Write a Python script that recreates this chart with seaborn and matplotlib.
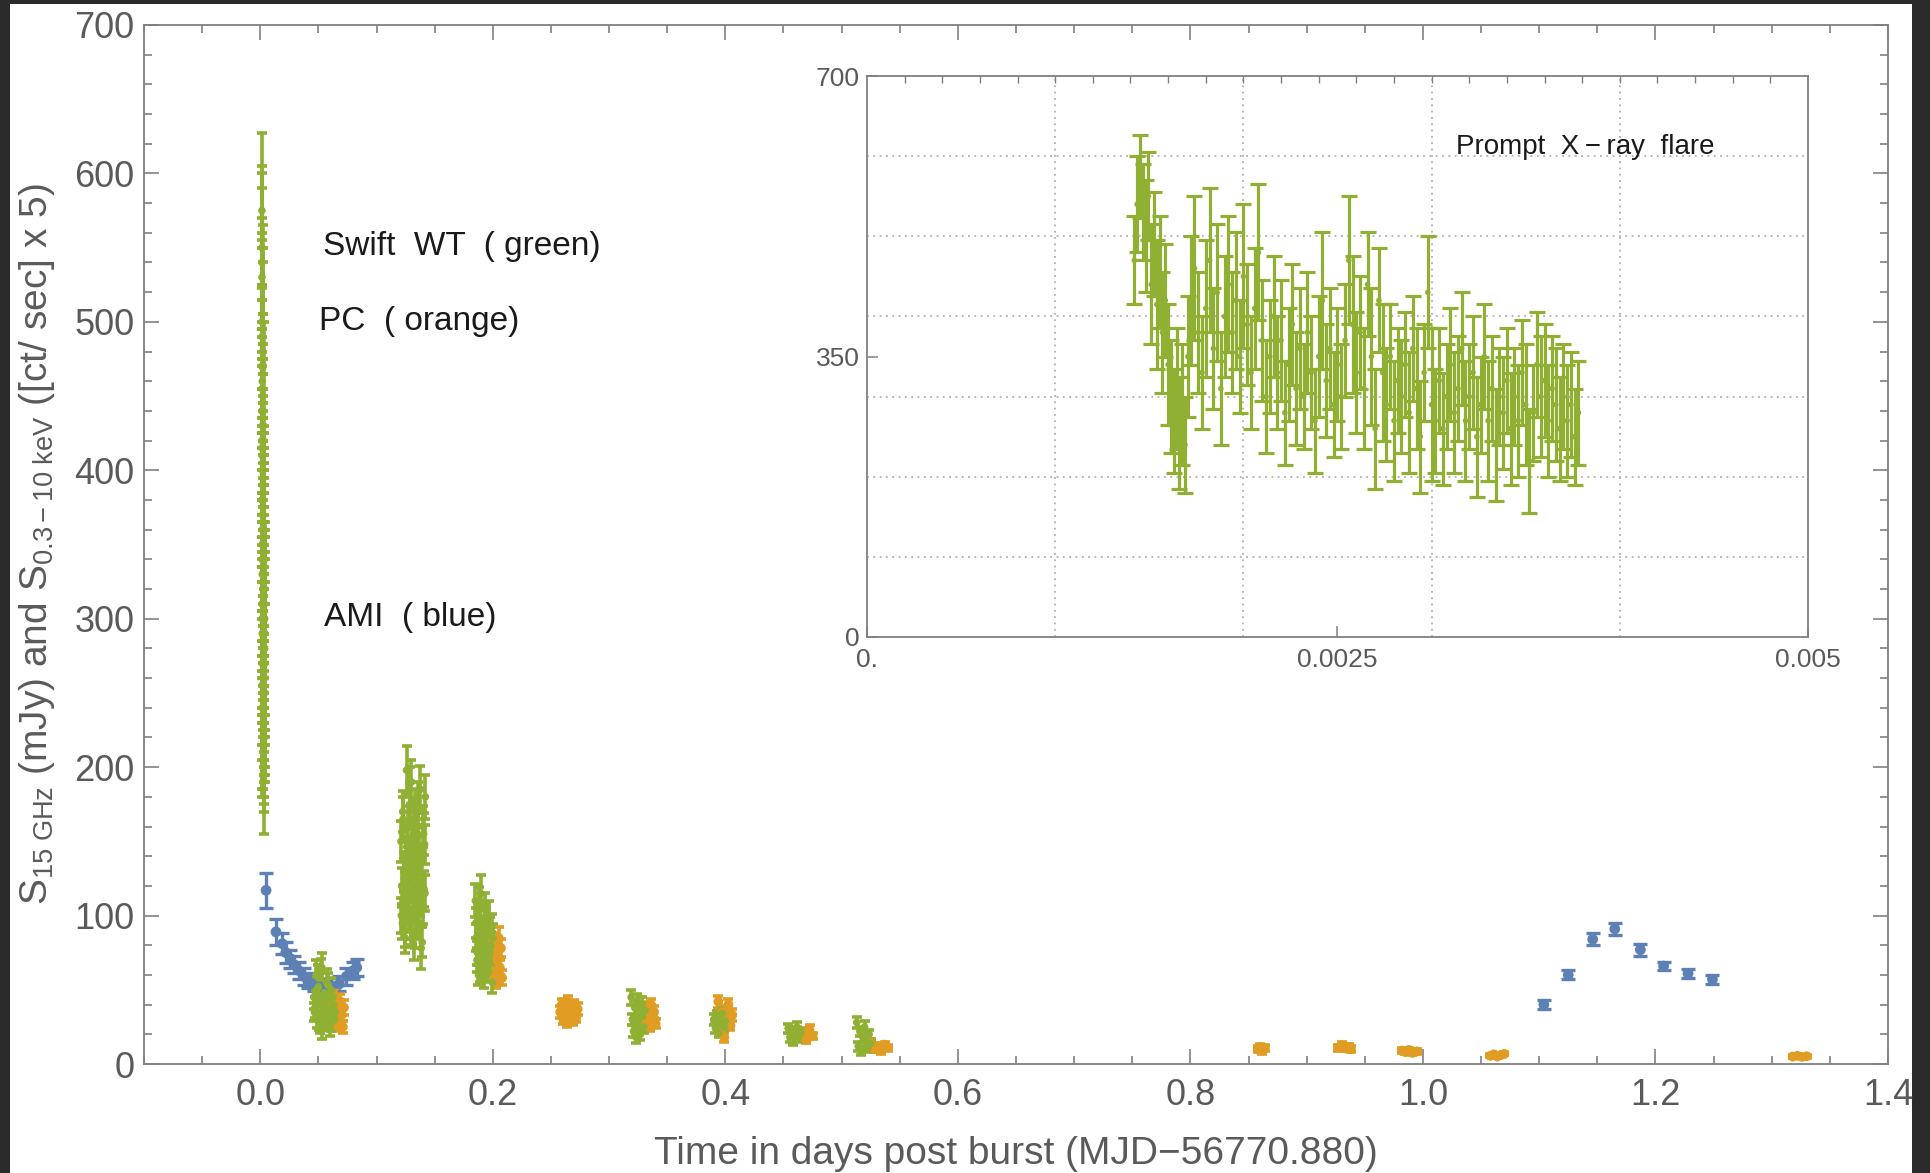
import matplotlib
matplotlib.use("Agg")
import matplotlib.pyplot as plt
import seaborn as sns
import pandas as pd
from matplotlib.ticker import MultipleLocator, FixedLocator
from matplotlib.patches import Rectangle

BLUE = "#5E81B5"
ORANGE = "#E19C24"
GREEN = "#8FB032"

# --- prompt X-ray flare (Swift WT), t in days
flare_t = [0.001420, 0.001435, 0.001450, 0.001465, 0.001480, 0.001495, 0.001510, 0.001525, 0.001540, 0.001555,
           0.001570, 0.001585, 0.001600, 0.001615, 0.001630, 0.001645, 0.001660, 0.001675, 0.001690, 0.001705,
           0.001720,
           0.00174, 0.00176, 0.00178, 0.00180, 0.00182, 0.00184, 0.00186, 0.00188, 0.00190, 0.00192,
           0.00194, 0.00196, 0.00198, 0.00200, 0.00202, 0.00204, 0.00206, 0.00208, 0.00210, 0.00212,
           0.00214, 0.00216, 0.00218, 0.00220, 0.00222, 0.00224, 0.00226, 0.00228, 0.00230, 0.00232,
           0.00234, 0.00236, 0.00238, 0.00240, 0.00242, 0.00244, 0.00246, 0.00248, 0.00250, 0.00252,
           0.00254, 0.00256, 0.00258, 0.00260, 0.00262, 0.00264, 0.00266, 0.00268, 0.00270, 0.00272,
           0.00274, 0.00276, 0.00278, 0.00280, 0.00282, 0.00284, 0.00286, 0.00288, 0.00290, 0.00292,
           0.00294, 0.00296, 0.00298, 0.00300, 0.00302, 0.00304, 0.00306, 0.00308, 0.00310, 0.00312,
           0.00314, 0.00316, 0.00318, 0.00320, 0.00322, 0.00324, 0.00326, 0.00328, 0.00330, 0.00332,
           0.00334, 0.00336, 0.00338, 0.00340, 0.00342, 0.00344, 0.00346, 0.00348, 0.00350, 0.00352,
           0.00354, 0.00356, 0.00358, 0.00360, 0.00362, 0.00364, 0.00366, 0.00368, 0.00370, 0.00372,
           0.00374, 0.00376, 0.00378]
flare_y = [470, 540, 575, 530, 500, 550, 440, 490, 415, 455, 380, 420, 340, 300, 270, 310, 255, 290, 240, 350,
           420,
           460, 380, 330, 410, 470, 360, 430, 310, 400, 440, 380, 420, 350, 450, 390, 330, 410, 480, 370, 300,
           350, 400, 330, 370, 280, 340, 390, 310, 360, 300, 380, 330, 270, 350, 420, 320, 360, 290, 340, 300,
           370, 470, 390, 330, 380, 310, 440, 350, 260, 420, 330, 290, 350, 270, 320, 300, 340, 280, 360, 310,
           250, 330, 430, 290, 270, 320, 260, 300, 340, 280, 310, 360, 270, 300, 330, 250, 290, 350, 270, 310,
           240, 300, 280, 320, 260, 300, 270, 330, 290, 220, 280, 340, 300, 320, 270, 310, 290, 260, 300, 270,
           290, 250, 280]
flare_err = [55, 60, 52, 60, 70, 55, 75, 65, 80, 70, 75, 70, 75, 70, 65, 75, 70, 75, 60, 75,
             80,
             90, 75, 70, 85, 90, 75, 85, 70, 75, 85, 75, 85, 70, 90, 75, 70, 75, 85, 75, 70,
             70, 75, 70, 75, 65, 70, 75, 70, 75, 65, 75, 70, 65, 75, 85, 70, 75, 65, 70, 65,
             70, 80, 85, 75, 70, 75, 65, 85, 75, 65, 85, 70, 65, 75, 65, 70, 65, 75, 65, 75,
             70, 60, 70, 95, 65, 65, 70, 65, 70, 75, 65, 70, 75, 65, 70, 75, 60, 65, 75, 65,
             70, 60, 70, 65, 70, 60, 70, 65, 75, 65, 60, 65, 75, 70, 70, 65, 70, 65, 65, 70,
             65, 60, 65]

# --- later Swift WT (green) clusters
green_t = [0.046, 0.047, 0.048, 0.049, 0.050, 0.051, 0.052, 0.053, 0.054, 0.055, 0.056, 0.057,
           0.058, 0.059, 0.060, 0.061, 0.062, 0.063, 0.064, 0.050, 0.053, 0.056, 0.059, 0.062,
           0.0465, 0.0485, 0.0505, 0.0525, 0.0545, 0.0565, 0.0585, 0.0605, 0.0625, 0.0645,
           0.121, 0.1216, 0.1222, 0.1228, 0.1234, 0.124, 0.1246, 0.1252, 0.1258, 0.1264, 0.127, 0.1276,
           0.1282, 0.1288, 0.1294, 0.13, 0.1306, 0.1312, 0.1318, 0.1324, 0.133, 0.1336, 0.1342, 0.1348,
           0.1354, 0.136, 0.1366, 0.1372, 0.1378, 0.1384, 0.139, 0.1396, 0.1402, 0.1408, 0.1414, 0.142,
           0.1213, 0.1225, 0.1237, 0.1249, 0.1261, 0.1273, 0.1285, 0.1297, 0.1309, 0.1321,
           0.1333, 0.1345, 0.1357, 0.1369, 0.1381, 0.1393, 0.1405, 0.1417, 0.1300, 0.1330,
           0.185, 0.1857, 0.1863, 0.187, 0.1876, 0.1883, 0.189, 0.1896, 0.1903, 0.191, 0.1916, 0.1923,
           0.193, 0.1936, 0.1943, 0.195, 0.1956, 0.1963, 0.197, 0.1976, 0.1983, 0.199, 0.1996, 0.2,
           0.1853, 0.1866, 0.188, 0.1893, 0.1906, 0.192, 0.1933, 0.1946, 0.196, 0.1973,
           0.319, 0.320, 0.321, 0.322, 0.323, 0.324, 0.325, 0.326, 0.327, 0.328, 0.329, 0.330, 0.331, 0.3245,
           0.390, 0.3915, 0.393, 0.3945, 0.396, 0.3975, 0.399, 0.400,
           0.454, 0.4555, 0.457, 0.4585, 0.460, 0.4615, 0.463, 0.465,
           0.513, 0.5143, 0.5157, 0.517, 0.5183, 0.5197, 0.521, 0.5223, 0.5237, 0.525]
green_y = [45, 38, 60, 30, 52, 26, 42, 65, 33, 48, 28, 55, 36, 44, 24, 50, 34, 40, 30, 58, 22, 47, 31, 38,
           35, 50, 28, 62, 40, 30, 53, 27, 45, 35,
           150, 120, 95, 165, 130, 105, 85, 140, 198, 115, 160, 100, 135, 175, 90, 125, 150, 110, 80, 145,
           170, 100, 130, 120, 155, 95, 140, 112, 185, 78, 128, 160, 105, 118, 148, 180,
           100, 170, 125, 90, 150, 110, 185, 95, 140, 165, 88, 120, 175, 105, 135, 82, 155, 115, 190, 145,
           110, 85, 70, 95, 60, 100, 78, 115, 65, 90, 82, 58, 105, 72, 95, 68, 88, 62, 100, 75, 80, 92, 55, 85,
           95, 75, 108, 62, 88, 70, 98, 80, 66, 90,
           45, 30, 22, 38, 18, 42, 27, 35, 20, 40, 32, 25, 36, 28,
           30, 24, 32, 21, 27, 34, 25, 29,
           24, 18, 22, 15, 20, 25, 17, 21,
           28, 12, 22, 8, 18, 25, 15, 10, 20, 14]
green_err = [8, 7, 10, 6, 8, 5, 7, 10, 6, 8, 5, 9, 6, 7, 5, 8, 6, 7, 5, 9, 5, 8, 6, 7,
             6, 8, 5, 9, 7, 5, 8, 5, 7, 6,
             14, 12, 11, 15, 13, 11, 10, 13, 16, 12, 14, 11, 13, 15, 10, 12, 14, 12, 10, 13,
             15, 11, 13, 12, 14, 11, 13, 12, 16, 14, 12, 14, 11, 12, 13, 15,
             12, 14, 13, 11, 14, 12, 15, 11, 13, 14, 10, 12, 15, 11, 13, 10, 14, 12, 15, 13,
             11, 9, 8, 10, 7, 10, 8, 12, 8, 9, 9, 7, 10, 8, 10, 8, 9, 7, 10, 8, 9, 9, 7, 9,
             10, 8, 11, 7, 9, 8, 10, 9, 7, 9,
             5, 4, 4, 5, 4, 5, 4, 5, 4, 5, 4, 4, 5, 4,
             4, 3, 4, 3, 4, 4, 3, 4,
             3, 3, 3, 2, 3, 3, 2, 3,
             4, 3, 3, 2, 3, 4, 3, 2, 3, 3]

# --- Swift PC (orange)
orange_t = [0.063, 0.064, 0.065, 0.066, 0.067, 0.068, 0.069, 0.070, 0.071, 0.072,
            0.200, 0.201, 0.202, 0.203, 0.204, 0.205, 0.206, 0.207, 0.208, 0.2045,
            0.258, 0.2594, 0.2607, 0.262, 0.2634, 0.2648, 0.2661, 0.2675, 0.2689, 0.2702, 0.2716, 0.273,
            0.331, 0.3323, 0.3336, 0.3349, 0.3361, 0.3374, 0.3387, 0.340,
            0.394, 0.3957, 0.3974, 0.3991, 0.4009, 0.4026, 0.4043, 0.406,
            0.462, 0.4646, 0.4672, 0.4698, 0.4724, 0.475,
            0.525, 0.528, 0.531, 0.534, 0.537, 0.540,
            0.858, 0.860, 0.862, 0.864,
            0.927, 0.930, 0.933, 0.936, 0.938,
            0.982, 0.985, 0.988, 0.991, 0.995,
            1.058, 1.061, 1.064, 1.067, 1.070,
            1.318, 1.322, 1.326, 1.330]
orange_y = [40, 30, 45, 26, 35, 28, 42, 33, 25, 38,
            82, 60, 75, 56, 70, 85, 65, 78, 58, 72,
            35, 40, 30, 38, 28, 42, 33, 36, 29, 39, 31, 37,
            38, 28, 34, 25, 40, 30, 35, 27,
            42, 22, 35, 18, 30, 40, 26, 33,
            22, 18, 20, 16, 23, 19,
            14, 10, 12, 9, 13, 11,
            10, 11.5, 9, 10.5,
            11, 12.5, 10.5, 11.5, 10,
            9, 8, 9.5, 7.5, 8.5,
            5.5, 6.5, 5, 6, 6.8,
            5, 5.5, 4.8, 5.2]
orange_err = [5, 4, 6, 4, 5, 4, 5, 4, 4, 5,
              6, 5, 6, 5, 6, 7, 5, 6, 5, 6,
              4, 4, 3, 4, 3, 4, 4, 4, 3, 4, 3, 4,
              4, 3, 4, 3, 4, 3, 4, 3,
              4, 3, 4, 3, 4, 4, 3, 4,
              3, 2, 3, 2, 3, 2,
              2, 2, 2, 2, 2, 2,
              2, 2, 2, 2,
              2, 2, 2, 2, 2,
              1.5, 1.5, 1.5, 1.5, 1.5,
              1, 1, 1, 1, 1,
              1, 1, 1, 1]

# --- AMI 15 GHz (blue)
blue_t = [0.005, 0.0135, 0.019, 0.022, 0.026, 0.029, 0.033, 0.0375, 0.041, 0.046, 0.051, 0.056,
          0.061, 0.068, 0.074, 0.080, 0.083,
          1.104, 1.125, 1.146, 1.165, 1.187, 1.207, 1.228, 1.249]
blue_y = [117, 89, 81, 75, 71, 67, 63, 59, 56, 54, 52, 52, 53, 54, 59, 63, 65,
          40, 60, 84, 91, 77, 66, 61, 57]
blue_err = [12, 9, 7, 7, 6, 6, 6, 6, 5, 5, 5, 5, 5, 5, 6, 6, 6,
            3, 3, 4, 4, 4, 3, 3, 3]

for a, b, c in [(flare_t, flare_y, flare_err), (green_t, green_y, green_err),
                (orange_t, orange_y, orange_err), (blue_t, blue_y, blue_err)]:
    assert len(a) == len(b) == len(c), (len(a), len(b), len(c))

sns.set_style("ticks")
plt.rcParams["font.family"] = ["Liberation Sans", "DejaVu Sans"]
plt.rcParams["mathtext.fontset"] = "custom"
plt.rcParams["mathtext.rm"] = "Liberation Sans"
plt.rcParams["mathtext.it"] = "Liberation Sans:italic"

GRAY_TXT = "#5a5a5a"
SPINE = "#808080"


def draw(ax, t, y, err, color, size=30, cap=3.5, lw=2.6):
    ax.errorbar(t, y, yerr=err, fmt="none", ecolor=color, elinewidth=lw,
                capsize=cap, capthick=lw, zorder=2)
    df = pd.DataFrame({"t": t, "y": y})
    sns.scatterplot(data=df, x="t", y="y", ax=ax, color=color, s=size,
                    edgecolor="none", legend=False, zorder=3)


fig = plt.figure(figsize=(19.31, 11.73), dpi=100, facecolor="#2b2b2b")
fig.patches.append(Rectangle((10 / 1931, 0), (1912 - 10) / 1931, 1 - 4 / 1173,
                             transform=fig.transFigure, facecolor="white",
                             edgecolor="none", zorder=-10))

ax = fig.add_axes([144 / 1931, 1 - 1064 / 1173, (1888 - 144) / 1931, (1064 - 25) / 1173])
ax.set_facecolor("white")

draw(ax, blue_t, blue_y, blue_err, BLUE, size=60, cap=5, lw=2.4)
draw(ax, orange_t, orange_y, orange_err, ORANGE, size=50)
draw(ax, flare_t, flare_y, flare_err, GREEN)
draw(ax, green_t, green_y, green_err, GREEN)

ax.set_xlim(-0.1, 1.4)
ax.set_ylim(0, 700)
ax.xaxis.set_major_locator(FixedLocator([0.0, 0.2, 0.4, 0.6, 0.8, 1.0, 1.2, 1.4]))
ax.xaxis.set_minor_locator(MultipleLocator(0.05))
ax.yaxis.set_major_locator(MultipleLocator(100))
ax.yaxis.set_minor_locator(MultipleLocator(20))
ax.set_xticklabels(["0.0", "0.2", "0.4", "0.6", "0.8", "1.0", "1.2", "1.4"])
ax.tick_params(which="both", direction="in", top=True, right=True, colors=SPINE,
               labelcolor=GRAY_TXT, labelsize=26)
ax.tick_params(which="major", length=11, width=1.2)
ax.tick_params(which="minor", length=6, width=1.2)
ax.tick_params(axis="x", pad=10)
ax.tick_params(axis="y", pad=7)
for s in ax.spines.values():
    s.set_color(SPINE)
    s.set_linewidth(1.3)

ax.set_xlabel("Time in days post burst (MJD\u221256770.880)", fontsize=28, color=GRAY_TXT)
ax.set_ylabel(r"$\mathrm{S}_{\mathrm{15\ GHz}}$ (mJy) and $\mathrm{S}_{\mathrm{0.3-10\ keV}}$ ([ct/ sec] x 5)",
              fontsize=28, color=GRAY_TXT)
ax.xaxis.set_label_coords(0.5, -0.069)
ax.yaxis.set_label_coords(-0.050, 0.5)

ax.text(0.0536, 551, "Swift  WT  ( green)", fontsize=24, color="#1a1a1a", va="center", ha="left")
ax.text(0.0505, 500, "PC  ( orange)", fontsize=24, color="#1a1a1a", va="center", ha="left")
ax.text(0.0547, 301, "AMI  ( blue)", fontsize=24, color="#1a1a1a", va="center", ha="left")

# --- inset with the prompt flare
ins = fig.add_axes([867 / 1931, 1 - 637 / 1173, (1808 - 867) / 1931, (637 - 76) / 1173])
ins.set_facecolor("white")
for gx in [0.001, 0.002, 0.003, 0.004]:
    ins.axvline(gx, color="#b0b0b0", ls=(0, (1, 2.5)), lw=1.3, zorder=0)
for gy in [100, 200, 300, 400, 500, 600]:
    ins.axhline(gy, color="#b0b0b0", ls=(0, (1, 2.5)), lw=1.3, zorder=0)
draw(ins, flare_t, flare_y, flare_err, GREEN, size=16, cap=6, lw=2.3)
ins.set_xlim(0, 0.005)
ins.set_ylim(0, 700)
ins.xaxis.set_major_locator(FixedLocator([0.0, 0.0025, 0.005]))
ins.set_xticklabels(["0.", "0.0025", "0.005"])
ins.yaxis.set_major_locator(FixedLocator([0, 350, 700]))
ins.set_yticklabels(["0", "350", "700"])
ins.xaxis.set_minor_locator(MultipleLocator(0.0002))
ins.tick_params(which="both", direction="in", colors=SPINE, labelcolor=GRAY_TXT, labelsize=19)
ins.tick_params(which="major", length=8, width=1.1)
ins.tick_params(axis="x", which="minor", bottom=False, top=True, length=5, width=1.0)
ins.tick_params(axis="x", pad=8)
ins.tick_params(axis="y", pad=5)
for s in ins.spines.values():
    s.set_color(SPINE)
    s.set_linewidth(1.3)
ins.set_xlabel("")
ins.set_ylabel("")
ins.text(0.00313, 612, "Prompt  X\u2009\u2212\u2009ray  flare", fontsize=20, color="#1a1a1a",
         va="center", ha="left")

fig.savefig("out.png", dpi=100, facecolor=fig.get_facecolor())
